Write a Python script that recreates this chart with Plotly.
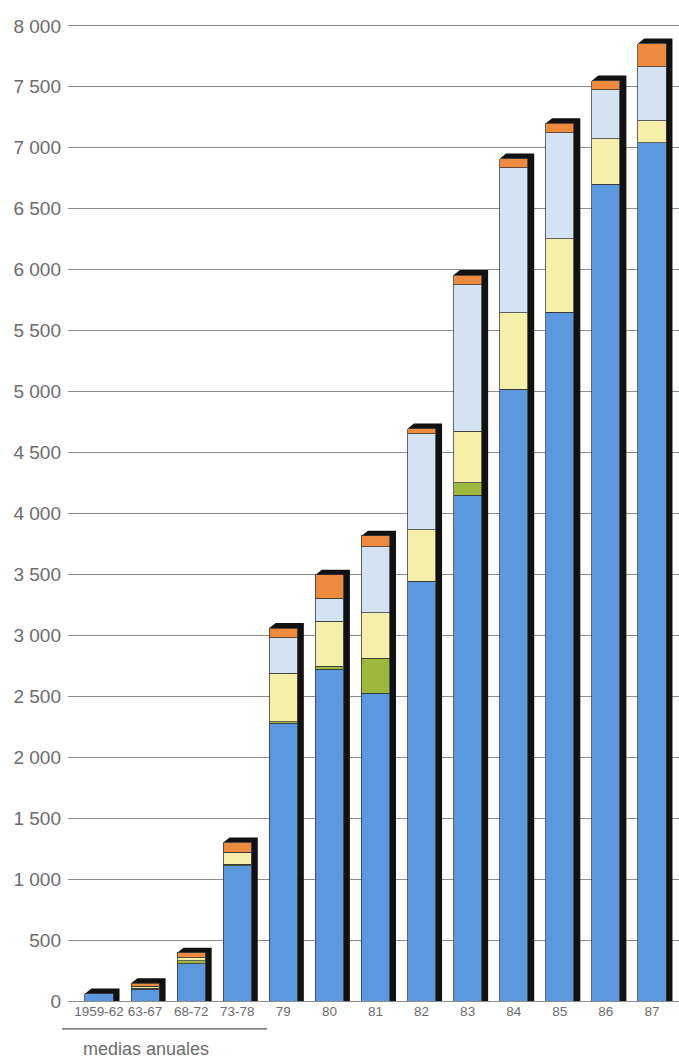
import plotly.graph_objects as go

# Periods on the horizontal axis (first four are annual averages)
periods = ["1959-62", "63-67", "68-72", "73-78", "79", "80", "81",
           "82", "83", "84", "85", "86", "87"]

# Stacked components, bottom to top
blue = [60, 95, 305, 1110, 2280, 2720, 2525, 3445, 4150, 5020, 5650, 6700, 7040]
green = [0, 8, 25, 10, 10, 25, 285, 0, 100, 0, 0, 0, 0]
yellow = [0, 17, 25, 95, 400, 370, 375, 420, 425, 625, 605, 375, 180]
light_blue = [0, 0, 0, 5, 290, 190, 540, 790, 1200, 1190, 870, 400, 445]
orange = [0, 25, 40, 80, 80, 190, 90, 40, 80, 75, 75, 75, 190]

y_ticks = [0, 500, 1000, 1500, 2000, 2500, 3000, 3500, 4000,
           4500, 5000, 5500, 6000, 6500, 7000, 7500, 8000]

series = [
    (blue, "#5b98de"),
    (green, "#9cb83d"),
    (yellow, "#f6efa9"),
    (light_blue, "#d3e3f3"),
    (orange, "#ee8a3e"),
]

BAR_W = 0.61      # bar width in category units
DEPTH_X = 0.14    # extrusion to the right (category units)
DEPTH_Y = 42      # extrusion upward (value units)

fig = go.Figure()
for values, color in series:
    fig.add_trace(go.Bar(
        x=periods, y=values, width=BAR_W,
        marker=dict(color=color, line=dict(color="rgba(55,55,55,0.85)", width=0.9)),
        showlegend=False, hoverinfo="skip",
    ))

# Black extruded "3D" side and top behind each stacked bar
totals = [sum(v) for v in zip(blue, green, yellow, light_blue, orange)]
shapes = []
for i, top in enumerate(totals):
    x0 = i - BAR_W / 2
    x1 = i + BAR_W / 2
    path = (f"M {x0},{top} L {x0 + DEPTH_X},{top + DEPTH_Y} "
            f"L {x1 + DEPTH_X},{top + DEPTH_Y} L {x1 + DEPTH_X},0 "
            f"L {x1},0 L {x1},{top} Z")
    shapes.append(dict(type="path", path=path, xref="x", yref="y",
                       fillcolor="#111111", line=dict(width=0), layer="between"))

# Bracket under the averaged periods
shapes.append(dict(type="line", xref="paper", yref="paper",
                   x0=-0.0098, x1=0.3257, y0=-0.0285, y1=-0.0285,
                   line=dict(color="#555555", width=1.3)))

fig.update_layout(
    width=679, height=1058,
    margin=dict(l=68, r=0, t=20, b=57),
    paper_bgcolor="white", plot_bgcolor="white",
    barmode="stack",
    separators=", ",
    shapes=shapes,
    font=dict(family="Liberation Sans, Arial, sans-serif", color="#6c6c6c"),
    annotations=[dict(
        text="medias anuales", xref="paper", yref="paper",
        x=0.128, y=-0.049, showarrow=False, xanchor="center", yanchor="middle",
        font=dict(size=18, color="#6c6c6c"),
    )],
)

fig.update_xaxes(
    type="category", range=[-0.673, 12.587],
    showgrid=False, ticks="", showline=False, zeroline=False,
    tickangle=0, tickfont=dict(size=13.5, color="#6c6c6c"),
)
fig.update_yaxes(
    range=[0, 8048], tickvals=y_ticks, tickformat=",d",
    showgrid=True, gridcolor="#8c8c8c", gridwidth=1.2,
    zeroline=True, zerolinecolor="#8c8c8c", zerolinewidth=1.2,
    ticks="", ticklabelstandoff=6, showline=False,
    tickfont=dict(size=19, color="#6c6c6c"),
)

fig.write_html("out.html")
